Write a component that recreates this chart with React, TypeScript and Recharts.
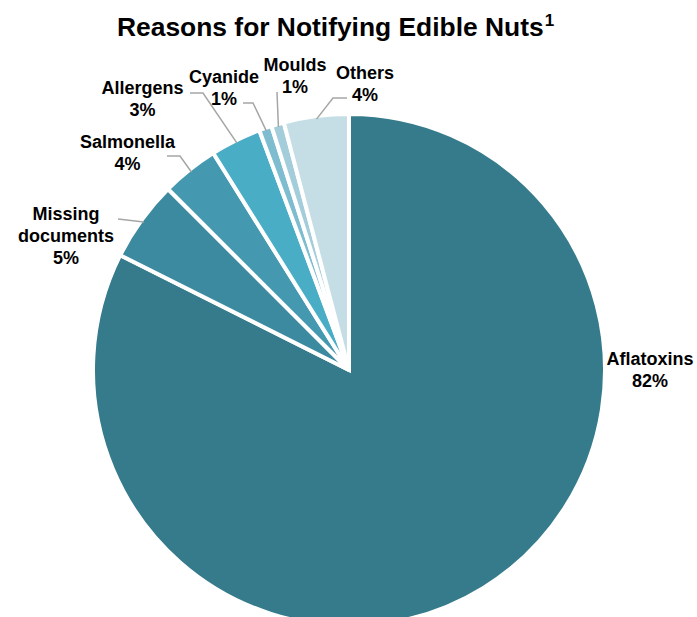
import React from 'react'
import { PieChart, Pie, Cell } from 'recharts'

// reasons, read clockwise from 12 o'clock
const REASONS = ['Aflatoxins', 'Missing documents', 'Salmonella', 'Allergens', 'Cyanide', 'Moulds', 'Others']
const SHARES = [82.4, 5.1, 3.6, 3.2, 0.8, 0.8, 4.1]
const SHARE_LABELS = ['82%', '5%', '4%', '3%', '1%', '1%', '4%']

const COLORS = ['#357B8B', '#3C8A9F', '#4499B1', '#4AADC6', '#7EBDD0', '#A3CDDA', '#C5DEE6']

const FONT = '"Liberation Sans", Arial, Helvetica, sans-serif'
const LINE_COLOR = '#A6A6A6'

// label placement: text centre x, first baseline y, leader elbow + end (null = no leader)
const LABEL_LAYOUT: { x: number; y: number; leader: number[][] | null }[] = [
  { x: 650, y: 365, leader: null },
  { x: 66, y: 219.5, leader: [[118, 219]] },
  { x: 127.5, y: 147.5, leader: [[180, 156], [167, 156]] },
  { x: 142.5, y: 93.5, leader: [[203, 93], [190, 93]] },
  { x: 224, y: 83, leader: [[253, 103], [243, 103]] },
  { x: 295, y: 71, leader: [[277, 92]] },
  { x: 365, y: 78.5, leader: [[333, 98], [347, 98]] },
]

const data = REASONS.map((name, i) => ({ name, value: SHARES[i], label: SHARE_LABELS[i] }))

const RADIAN = Math.PI / 180

const renderLabel = (props: any) => {
  const { cx, cy, midAngle, outerRadius, index } = props
  const layout = LABEL_LAYOUT[index]
  if (!layout) return null
  const lines = [...REASONS[index].split(' '), SHARE_LABELS[index]]
  let leader = null
  if (layout.leader) {
    const r = outerRadius - 3
    const sx = cx + r * Math.cos(-midAngle * RADIAN)
    const sy = cy + r * Math.sin(-midAngle * RADIAN)
    const pts = [[sx, sy], ...layout.leader].map((p) => p.join(',')).join(' ')
    leader = <polyline points={pts} fill="none" stroke={LINE_COLOR} strokeWidth={1.5} />
  }
  return (
    <g key={`label-${index}`}>
      {leader}
      <text
        x={layout.x}
        y={layout.y}
        textAnchor="middle"
        fontFamily={FONT}
        fontWeight="bold"
        fontSize={18}
        fill="#000"
      >
        {lines.map((line, i) => (
          <tspan key={i} x={layout.x} dy={i === 0 ? 0 : 22}>
            {line}
          </tspan>
        ))}
      </text>
    </g>
  )
}

export default function App() {
  return (
    <div style={{ position: 'absolute', left: 0, top: 0, width: 697, height: 617, background: '#fff' }}>
      <div
        style={{
          position: 'absolute',
          left: 117,
          top: 14,
          fontFamily: FONT,
          fontWeight: 'bold',
          fontSize: 26.4,
          lineHeight: '26px',
          whiteSpace: 'nowrap',
          color: '#000',
        }}
      >
        Reasons for Notifying Edible Nuts
        <span style={{ fontSize: 17, position: 'relative', top: -10, marginLeft: 1 }}>1</span>
      </div>
      <PieChart width={697} height={617} margin={{ top: 0, right: 0, bottom: 0, left: 0 }}>
        <Pie
          data={data}
          dataKey="value"
          nameKey="name"
          cx={349}
          cy={370}
          innerRadius={0}
          outerRadius={256}
          startAngle={90}
          endAngle={-270}
          stroke="#fff"
          strokeWidth={4}
          label={renderLabel}
          labelLine={false}
          isAnimationActive={false}
        >
          {data.map((entry, i) => (
            <Cell key={`cell-${i}`} fill={COLORS[i]} />
          ))}
        </Pie>
      </PieChart>
    </div>
  )
}
